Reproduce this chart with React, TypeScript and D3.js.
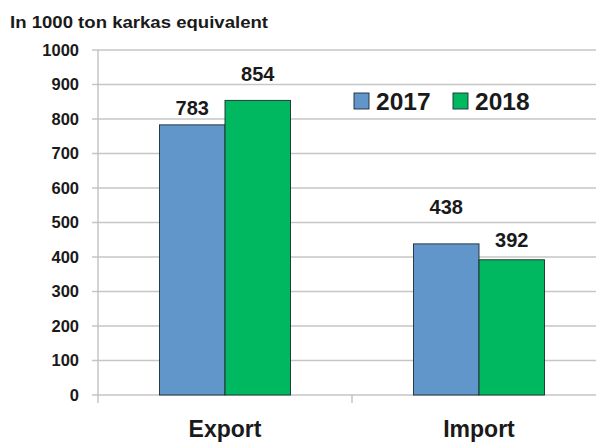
import React from "react";
import * as d3 from "d3";

const categories = ["Export", "Import"];
const years = ["2017", "2018"];
const values2017 = [783, 438];
const values2018 = [854, 392];
const yTicks = [0, 100, 200, 300, 400, 500, 600, 700, 800, 900, 1000];

const W = 596,
  H = 443;
const colors: Record<string, string> = { "2017": "#6196cb", "2018": "#00b860" };
// label lift above bar top, in px (labels in the source sit unevenly)
const labelLift = [[10, 19], [30, 13]];
const font = "'Liberation Sans', Arial, sans-serif";

export default function App() {
  const y = d3.scaleLinear().domain([0, 1000]).range([395, 50]);
  const x = d3.scaleBand().domain(categories).range([98, 606]);
  const bw = x.bandwidth();
  const x1 = d3.scaleBand().domain(years).range([bw * 0.242, bw * 0.758]);
  const series = [values2017, values2018];

  return (
    <svg
      width={W}
      height={H}
      style={{ position: "absolute", left: 0, top: 0, background: "#fff" }}
      fontFamily={font}
    >
      <text
        x={10}
        y={28}
        fontSize={17}
        fontWeight="bold"
        fill="#1a1a1a"
        textLength={258}
        lengthAdjust="spacingAndGlyphs"
      >
        In 1000 ton karkas equivalent
      </text>

      {/* gridlines + y labels */}
      {yTicks.map((t) => (
        <g key={t}>
          <line x1={92} x2={W} y1={y(t)} y2={y(t)} stroke="#c6c6c6" strokeWidth={1.3} />
          <text
            x={79}
            y={y(t)}
            dy="0.36em"
            textAnchor="end"
            fontSize={16.5}
            fontWeight="bold"
            fill="#1a1a1a"
          >
            {t}
          </text>
        </g>
      ))}

      {/* axes */}
      <line x1={98} x2={98} y1={y(1000)} y2={403} stroke="#bdbdbd" strokeWidth={1.3} />
      {categories.slice(1).map((c) => (
        <line key={c} x1={x(c)!} x2={x(c)!} y1={y(0)} y2={403} stroke="#bdbdbd" strokeWidth={1.3} />
      ))}

      {/* bars */}
      {categories.map((c, ci) =>
        years.map((yr, si) => {
          const v = series[si][ci];
          const bx = x(c)! + x1(yr)!;
          return (
            <g key={c + yr}>
              <rect
                x={bx}
                y={y(v)}
                width={x1.bandwidth()}
                height={y(0) - y(v)}
                fill={colors[yr]}
                stroke="#1e2a30"
                strokeWidth={0.9}
              />
              <text
                x={bx + x1.bandwidth() / 2}
                y={y(v) - labelLift[ci][si]}
                textAnchor="middle"
                fontSize={20}
                fontWeight="bold"
                fill="#1a1a1a"
              >
                {v}
              </text>
            </g>
          );
        })
      )}

      {/* category labels */}
      {categories.map((c) => (
        <text
          key={c}
          x={x(c)! + bw / 2}
          y={437}
          textAnchor="middle"
          fontSize={23}
          fontWeight="bold"
          fill="#1a1a1a"
        >
          {c}
        </text>
      ))}

      {/* legend */}
      {years.map((yr, i) => (
        <g key={yr} transform={`translate(${354 + i * 99},93)`}>
          <rect width={15} height={16} fill={colors[yr]} stroke="#1e2a30" strokeWidth={0.9} />
          <text x={22} y={17} fontSize={24.5} fontWeight="bold" fill="#1a1a1a">
            {yr}
          </text>
        </g>
      ))}
    </svg>
  );
}
